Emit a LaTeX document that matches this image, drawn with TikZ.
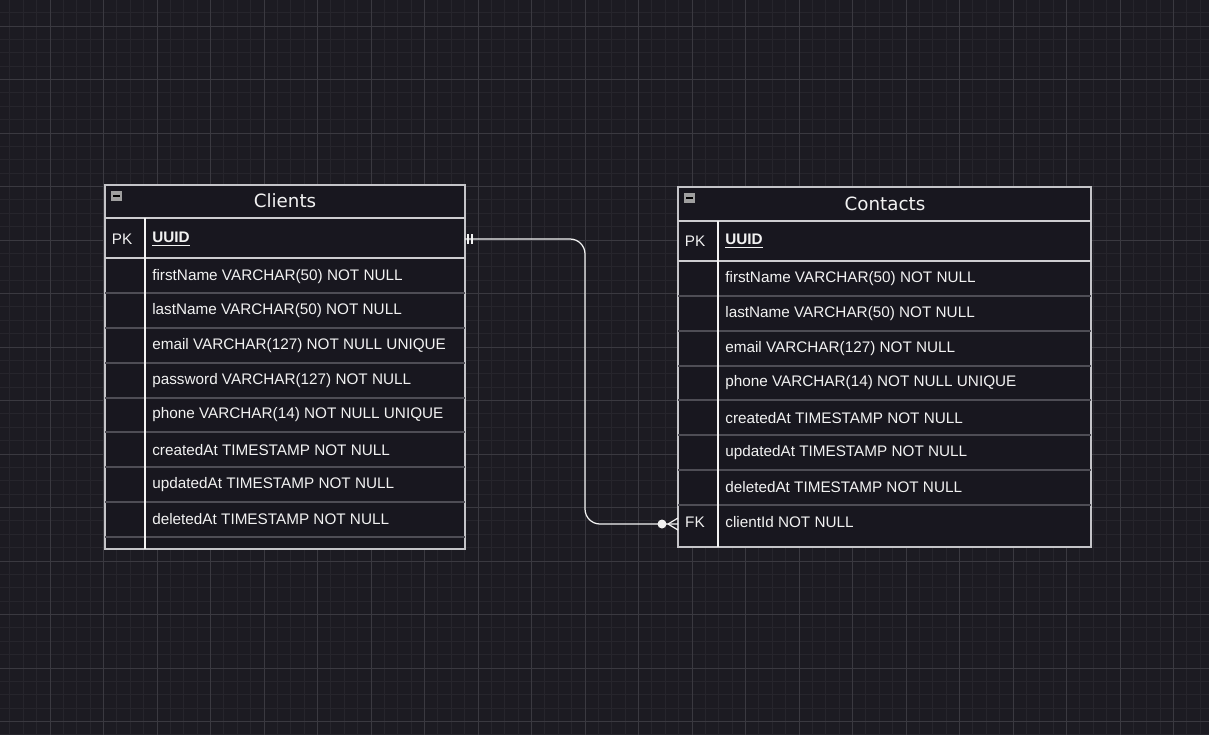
\documentclass[tikz,border=0pt]{standalone}
\usepackage{fontspec}
\setmainfont{Liberation Sans}
\newfontfamily\titlefont{DejaVu Sans}
\usetikzlibrary{positioning,arrows.meta}
\definecolor{canvas}{HTML}{1C1B22}
\definecolor{minorgrid}{HTML}{26252C}
\definecolor{majorgrid}{HTML}{3A3940}
\definecolor{tablefill}{HTML}{18171F}
\definecolor{framecol}{HTML}{C4C4C8}
\definecolor{rowcol}{HTML}{4E4D55}
\definecolor{inkcol}{HTML}{F2F2F2}

\begin{document}
\begin{tikzpicture}[x=0.02cm,y=-0.02cm,
	field/.style={anchor=west,inner sep=0pt,text=inkcol,font=\fontsize{8.7}{10}\selectfont},
	keylbl/.style={inner sep=0pt,text=inkcol,font=\fontsize{8.7}{10}\selectfont},
	title/.style={inner sep=0pt,text=inkcol,font=\titlefont\fontsize{10.4}{12}\selectfont},
	frame/.style={draw=framecol,fill=tablefill,line width=0.6pt},
	headline/.style={draw=framecol!85,line width=0.6pt},
	rowline/.style={draw=rowcol,line width=0.6pt},
	rel/.style={draw=inkcol!90,line width=0.7pt}]

	% canvas and grid
	\useasboundingbox (0,0) rectangle (1209,735);
	\clip (0,0) rectangle (1209,735);
	\fill[canvas] (0,0) rectangle (1209,735);
	\foreach \k in {-3,...,87}
		\draw[minorgrid,line width=0.5pt] ({50+13.375*\k},0) -- ({50+13.375*\k},735);
	\foreach \k in {-1,...,53}
		\draw[minorgrid,line width=0.5pt] (0,{26+13.375*\k}) -- (1209,{26+13.375*\k});
	\foreach \k in {0,...,21}
		\draw[majorgrid,line width=0.5pt] ({50+53.5*\k},0) -- ({50+53.5*\k},735);
	\foreach \k in {0,...,13}
		\draw[majorgrid,line width=0.5pt] (0,{26+53.5*\k}) -- (1209,{26+53.5*\k});

	% Clients table
	\draw[frame] (105,185) rectangle (465,549);
	\fill[gray!75] (111,191) rectangle (122,201);
	\draw[black,line width=0.8pt] (113,196) -- (120,196);
	\node[title] (cliTitle) at (285,201) {Clients};
	\draw[headline] (105,218) -- (465,218);
	\draw[headline] (105,258) -- (465,258);
	\foreach \y in {293,328,363,398,432,467,502,537}
		\draw[rowline] (105,\y) -- (465,\y);
	\draw[draw=inkcol!90,line width=0.6pt] (145,218) -- (145,549);
	\node[keylbl] (cliPKlbl) at (122,239) {PK};
	\node[field] (cliUUID) at (152,239) {\underline{\textbf{UUID}}};
	\foreach \y/\txt [count=\i] in {277/firstName VARCHAR(50) NOT NULL,
		311/lastName VARCHAR(50) NOT NULL,
		346/email VARCHAR(127) NOT NULL UNIQUE,
		381/password VARCHAR(127) NOT NULL,
		415/phone VARCHAR(14) NOT NULL UNIQUE,
		450/createdAt TIMESTAMP NOT NULL,
		485/updatedAt TIMESTAMP NOT NULL,
		519/deletedAt TIMESTAMP NOT NULL}
		\node[field] (cliField\i) at (152,\y) {\txt};

	% Contacts table
	\draw[frame] (678,187) rectangle (1091,547);
	\fill[gray!75] (684,193) rectangle (695,203);
	\draw[black,line width=0.8pt] (686,198) -- (693,198);
	\node[title] (conTitle) at (885,204) {Contacts};
	\draw[headline] (678,221) -- (1091,221);
	\draw[headline] (678,261) -- (1091,261);
	\foreach \y in {296,331,366,400,435,470,505}
		\draw[rowline] (678,\y) -- (1091,\y);
	\draw[draw=inkcol!90,line width=0.6pt] (718,221) -- (718,547);
	\node[keylbl] (conPKlbl) at (695,241) {PK};
	\node[field] (conUUID) at (725,241) {\underline{\textbf{UUID}}};
	\foreach \y/\txt [count=\i] in {279/firstName VARCHAR(50) NOT NULL,
		314/lastName VARCHAR(50) NOT NULL,
		349/email VARCHAR(127) NOT NULL,
		383/phone VARCHAR(14) NOT NULL UNIQUE,
		418/createdAt TIMESTAMP NOT NULL,
		453/updatedAt TIMESTAMP NOT NULL,
		487/deletedAt TIMESTAMP NOT NULL}
		\node[field] (conField\i) at (725,\y) {\txt};
	\node[keylbl] (conFKlbl) at (695,522) {FK};
	\node[field] (conClientId) at (725,522) {clientId NOT NULL};

	% relation
	\coordinate (cliPK) at (465,239);
	\coordinate (conFK) at (678,524);
	\draw[rel,rounded corners=0.3cm] (cliPK) -- (585,239) |- (conFK);
	\draw[rel] (468,234) -- (468,244) (472,234) -- (472,244);
	\fill[inkcol] (662,524) circle (4.5);
	\draw[rel] (668,524) -- (678,518) (668,524) -- (678,530);

\end{tikzpicture}
\end{document}
